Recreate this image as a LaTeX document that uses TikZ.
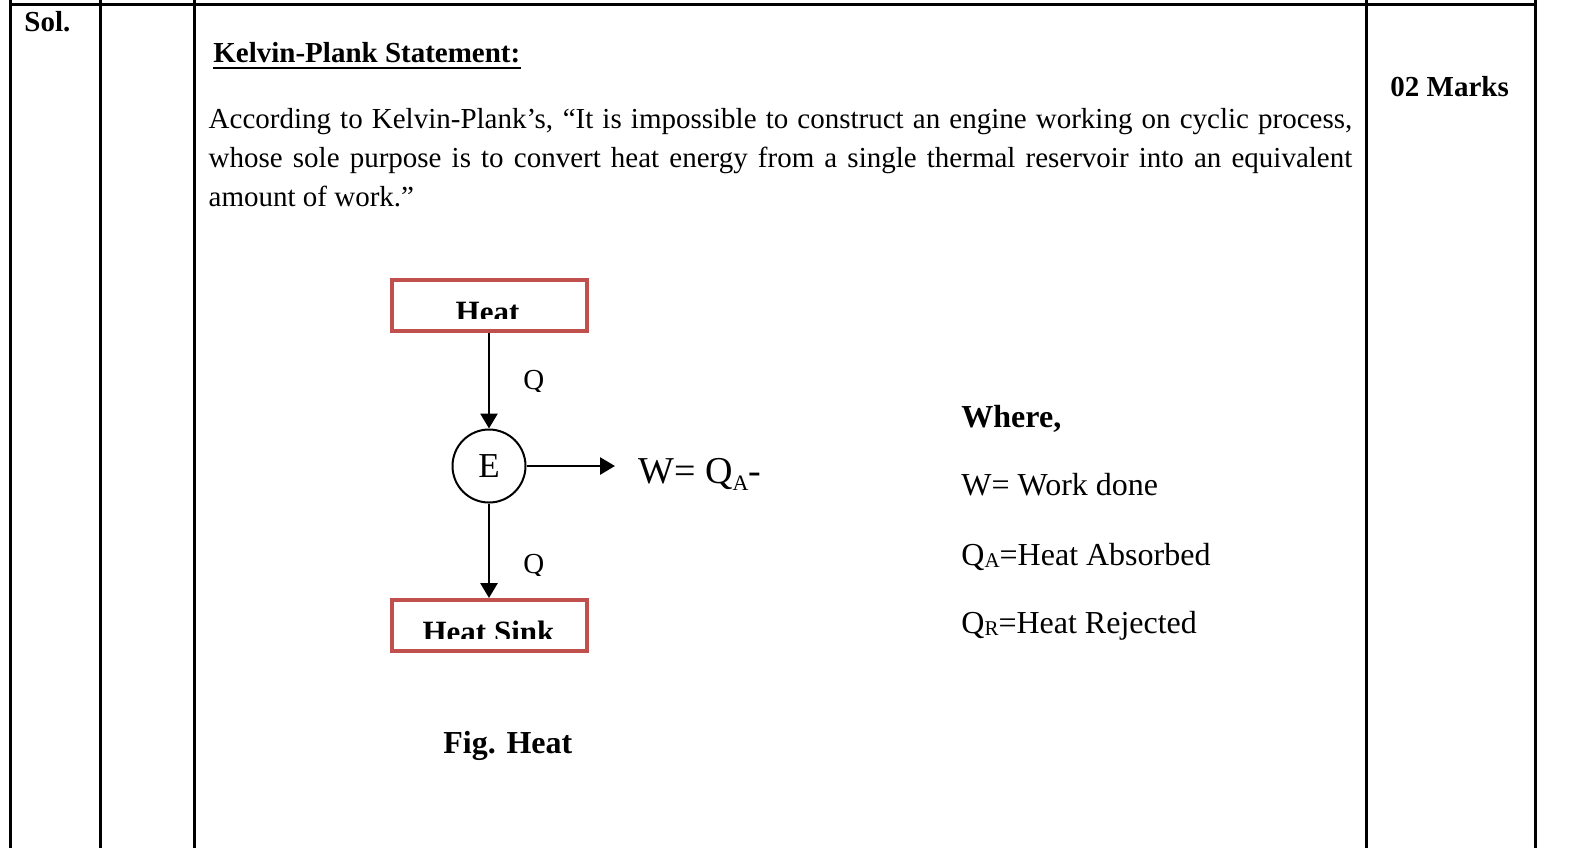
\documentclass[tikz,border=0pt]{standalone}
\usepackage{fontspec}
\setmainfont{Liberation Serif}
\usetikzlibrary{positioning,calc,arrows.meta}
\definecolor{boxred}{RGB}{192,80,77}
\newcommand{\lowidx}[3][1pt]{\raisebox{-#1}{\fontsize{#2}{12}\selectfont #3}}

\begin{document}
\begin{tikzpicture}[x=0.5pt,y=-0.5pt,>={Triangle[length=7.5pt,width=8.5pt]},
    rule/.style={line width=1.5pt},
    txt/.style={anchor=base west,inner sep=0pt,font=\fontsize{14.5}{19.5}\selectfont},
    big/.style={anchor=base west,inner sep=0pt,font=\fontsize{16}{19}\selectfont},
    res/.style={draw=boxred,line width=2pt,minimum width=97.5pt,minimum height=25.5pt,inner sep=0pt},
    flow/.style={->,line width=1.4pt}]
  \useasboundingbox (0,0) rectangle (1573,848);
  % table rules
  \draw[rule] (10,4) -- (1535,4);
  \foreach \x in {10,100,194,1366,1535}
    \draw[rule] (\x,0) -- (\x,848);

  \node[txt] (sol) at (24,31) {\bfseries Sol.};
  \node[txt] (title) at (213,62) {\bfseries Kelvin-Plank Statement:};
  \draw[line width=1.3pt] ($(title.base west)+(0,6)$) -- ($(title.base east)+(0,6)$);
  \node[txt,text width=571.8pt,align=justify] (stmt) at (208.3,128)
    {According to Kelvin-Plank’s, “It is impossible to construct an engine working on cyclic process,\linebreak
     whose sole purpose is to convert heat energy from a single thermal reservoir into an equivalent\linebreak
     amount of work.”};
  \node[txt] (marks) at (1390,96) {\bfseries 02 Marks};

  % engine diagram
  \node[res] (src) at (489,305) {};
  \node[res] (sink) at (489,625.5) {};
  \node[draw,circle,line width=1pt,minimum size=36.5pt,inner sep=0pt,
    font=\fontsize{17.5}{20}\selectfont] (eng) at (489,466) {E};
  \begin{scope}
    \clip (src.north west) rectangle ($(src.east)+(0,13)$);
    \node[anchor=base,inner sep=0pt,font=\fontsize{15.5}{18}\selectfont\bfseries]
      (srclbl) at ($(src.center)+(-1.5,17.5)$) {Heat};
  \end{scope}
  \begin{scope}
    \clip (sink.north west) rectangle ($(sink.east)+(0,12.5)$);
    \node[anchor=base,inner sep=0pt,font=\fontsize{15.5}{18}\selectfont\bfseries]
      (sinklbl) at ($(sink.center)+(-0.5,17)$) {Heat Sink};
  \end{scope}
  \coordinate (wend) at (615,466);
  \draw[flow] (src) -- (eng);
  \draw[flow] (eng) -- (sink);
  \draw[flow] (eng) -- (wend);
  \begin{scope}
    \clip (510,360) rectangle (560,391);
    \node[txt] (qa) at (523,389) {Q};
  \end{scope}
  \begin{scope}
    \clip (510,540) rectangle (560,575);
    \node[txt] (qr) at (523,573) {Q};
  \end{scope}
  \node[big,font=\fontsize{19}{22}\selectfont] (wlbl) at (638,483) {W= Q\lowidx[3.5pt]{11}{A}-};
  \node[big] (cap) at (443,753) {\bfseries Fig. Heat};

  % legend
  \node[big] (where) at (961,427) {\bfseries Where,};
  \node[big] (wdef) at (961,495) {W= Work done};
  \node[big] (qadef) at (961,565) {Q\lowidx{10.5}{A}=Heat Absorbed};
  \node[big] (qrdef) at (961,633) {Q\lowidx{10.5}{R}=Heat Rejected};
\end{tikzpicture}
\end{document}
